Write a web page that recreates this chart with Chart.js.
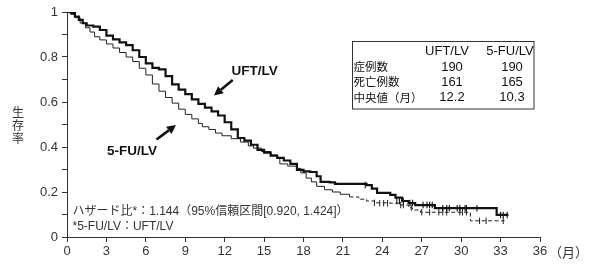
<!DOCTYPE html>
<html>
<head>
<meta charset="utf-8">
<script src="https://cdn.jsdelivr.net/npm/chart.js@4/dist/chart.umd.min.js"></script>
<style>
html,body{margin:0;padding:0;background:#fff;}
#wrap{width:591px;height:264px;}
</style>
</head>
<body>
<div id="wrap"><canvas id="c" width="591" height="264"></canvas></div>
<script>
// ---- data ----
const xTicks = [0,3,6,9,12,15,18,21,24,27,30,33,36];
const yTickLabels = ['0','0.2','0.4','0.6','0.8','1'];

const uftT = [0,0.3,0.6,0.9,1.2,1.5,2.0,2.5,3.0,3.5,4.0,4.5,5.0,5.5,6.0,6.5,7.0,7.5,8.0,8.5,9.0,9.5,10.0,10.5,11.0,11.5,12.0,12.5,13.0,13.5,14.0,14.5,15.0,15.5,16.0,16.5,17.0,17.5,18.0,18.5,19.0,19.3,20.0,20.4,22.8,23.2,23.6,24.6,25.0,25.5,26.0,26.5,28.0,32.7,33.6];
const uftS = [1,0.995,0.98,0.965,0.95,0.94,0.935,0.92,0.895,0.878,0.865,0.853,0.83,0.8,0.772,0.752,0.745,0.715,0.678,0.655,0.635,0.612,0.592,0.575,0.558,0.54,0.51,0.478,0.44,0.428,0.41,0.387,0.375,0.362,0.352,0.34,0.325,0.298,0.292,0.289,0.27,0.245,0.243,0.236,0.231,0.215,0.196,0.187,0.175,0.16,0.151,0.142,0.128,0.098,0.098];

const fuT = [0,0.3,0.6,1.0,1.4,1.75,2.1,2.5,3.0,3.5,4.0,4.5,5.0,5.5,6.0,6.5,7.0,7.5,8.0,8.5,9.0,9.5,10.0,10.3,10.8,11.3,11.8,12.5,13.2,13.8,14.2,14.8,15.5,16.0,16.2,16.8,17.5,17.8,18.2,18.6,19.0,19.6,20.2,20.8,21.5,22.2,22.8,23.4,24.6,25.3,26.0,26.3,26.9,30.7,33.3];
const fuS = [1,0.99,0.975,0.951,0.93,0.911,0.89,0.876,0.858,0.84,0.82,0.8,0.78,0.75,0.72,0.68,0.648,0.62,0.595,0.568,0.545,0.525,0.505,0.49,0.478,0.462,0.45,0.437,0.422,0.405,0.395,0.38,0.364,0.352,0.325,0.315,0.305,0.285,0.262,0.245,0.225,0.21,0.2,0.19,0.178,0.168,0.16,0.152,0.15,0.142,0.13,0.12,0.11,0.072,0.072];

const uftCensT = [22.7,25.1,25.3,25.6,26.1,26.3,27.1,27.4,27.6,27.8,28.6,28.9,29.1,29.7,29.9,30.3,30.4,31.2,33.0,33.2,33.5];
const uftCensS = [0.231,0.16,0.16,0.16,0.151,0.151,0.142,0.142,0.142,0.142,0.128,0.128,0.128,0.128,0.128,0.128,0.128,0.128,0.098,0.098,0.098];
const fuCensT = [23.4,23.8,24.1,24.4,25.4,25.6,26.2,27.0,27.6,28.3,28.6,28.9,29.9,30.1,30.4,31.4,31.9,33.2];
const fuCensS = [0.152,0.15,0.15,0.15,0.142,0.142,0.13,0.11,0.11,0.11,0.11,0.11,0.11,0.11,0.11,0.072,0.072,0.072];

const seriesNames = ['UFT/LV','5-FU/LV'];
const tableRows = ['症例数','死亡例数','中央値（月）'];
const uftStats = ['190','161','12.2'];
const fuStats = ['190','165','10.3'];
const hazardLines = ['ハザード比*：1.144（95%信頼区間[0.920, 1.424]）','*5-FU/LV：UFT/LV'];
const yTitle = '生存率';
const xUnit = '（月）';

// ---- build ----
const toXY = (t,s) => t.map((v,i)=>({x:v,y:s[i]}));
const INK = '#111';
const AX = '#333';
const LAT = "'Liberation Sans', Arial, 'Noto Sans CJK JP', sans-serif";
const CJK = "'Noto Sans CJK JP', 'Liberation Sans', sans-serif";
Chart.defaults.font.family = LAT;
Chart.defaults.color = AX;

function arrow(ctx, x1,y1,x2,y2){
  const a = Math.atan2(y2-y1,x2-x1), L=9, W=4.5;
  const bx = x2 - L*Math.cos(a), by = y2 - L*Math.sin(a);
  ctx.beginPath(); ctx.moveTo(x1,y1); ctx.lineTo(bx,by);
  ctx.lineWidth=2.6; ctx.strokeStyle=INK; ctx.stroke();
  ctx.beginPath(); ctx.moveTo(x2,y2);
  ctx.lineTo(bx + W*Math.sin(a), by - W*Math.cos(a));
  ctx.lineTo(bx - W*Math.sin(a), by + W*Math.cos(a));
  ctx.closePath(); ctx.fillStyle=INK; ctx.fill();
}

const annot = {
  id:'annot',
  afterDraw(chart){
    const ctx = chart.ctx;
    const xs = chart.scales.x, ys = chart.scales.y;
    ctx.save();
    // x unit
    ctx.fillStyle = AX; ctx.textBaseline='middle'; ctx.textAlign='left';
    ctx.font = "13px " + CJK;
    ctx.fillText(xUnit, xs.getPixelForValue(36)+9, 252);
    // y title
    ctx.textAlign='center'; ctx.font = "12px " + CJK;
    [...yTitle].forEach((ch,i)=>ctx.fillText(ch, 18, 112 + i*13));
    // table
    ctx.lineWidth=1; ctx.strokeStyle=AX;
    ctx.strokeRect(352.5,41.5,181.5,67.5);
    ctx.fillStyle=INK;
    ctx.font = "13px " + LAT; ctx.textAlign='center';
    ctx.fillText(seriesNames[0], 447, 51);
    ctx.fillText(seriesNames[1], 510, 51);
    const rowY=[67,82,97.5];
    tableRows.forEach((r,i)=>{
      ctx.textAlign='left'; ctx.font = "11.5px " + CJK;
      ctx.fillText(r, 353.5, rowY[i]);
      ctx.textAlign='center'; ctx.font = "13px " + LAT;
      ctx.fillText(uftStats[i], 452, rowY[i]);
      ctx.fillText(fuStats[i], 512, rowY[i]);
    });
    // series labels
    ctx.font = "bold 13.5px " + LAT; ctx.textAlign='left';
    ctx.fillText(seriesNames[0], 231.5, 71);
    ctx.fillText(seriesNames[1], 107, 151);
    arrow(ctx, 232.7, 80, 214, 95.5);
    arrow(ctx, 156.5, 139.5, 176, 125);
    // hazard text
    ctx.fillStyle = AX; ctx.font = "12px " + LAT; ctx.textAlign='left';
    ctx.fillText(hazardLines[0], 72.5, 212);
    ctx.fillText(hazardLines[1], 72.5, 226.5);
    ctx.restore();
  }
};

new Chart(document.getElementById('c'), {
  type:'line',
  data:{
    datasets:[
      {label:seriesNames[0], data:toXY(uftT,uftS), stepped:true, borderColor:INK, borderWidth:2.2, pointRadius:0, fill:false},
      {label:seriesNames[1], data:toXY(fuT,fuS), stepped:true, borderColor:'#222', borderWidth:1, pointRadius:0, fill:false,
        segment:{borderDash: c => c.p0.parsed.x >= 21.5 ? [4,2.5] : undefined}},
      {type:'scatter', data:toXY(uftCensT,uftCensS), showLine:false, pointStyle:'line', rotation:90, pointRadius:3.2, borderColor:INK, borderWidth:1.1},
      {type:'scatter', data:toXY(fuCensT,fuCensS), showLine:false, pointStyle:'line', rotation:90, pointRadius:3.2, borderColor:'#222', borderWidth:1}
    ]
  },
  options:{
    responsive:false, animation:false,
    layout:{padding:{top:12,right:51,left:0,bottom:0}},
    plugins:{legend:{display:false}, tooltip:{enabled:false}},
    scales:{
      x:{type:'linear', min:0, max:36,
        afterBuildTicks: s => { s.ticks = xTicks.map(v=>({value:v})); },
        afterFit: s => { s.height = 27; },
        ticks:{font:{size:13}, color:AX, padding:2, maxRotation:0, autoSkip:false, callback:v=>String(v)},
        grid:{drawOnChartArea:false, tickLength:5, color:AX, tickWidth:1},
        border:{color:AX, width:1}
      },
      y:{type:'linear', min:0, max:1,
        afterBuildTicks: s => { s.ticks = [0,1,2,3,4,5,6,7,8,9,10].map(i=>({value:i/10})); },
        afterFit: s => { s.width = 67; },
        ticks:{font:{size:13}, color:AX, padding:4, autoSkip:false,
          callback:(v,i)=> i%2===0 ? yTickLabels[i/2] : ''},
        grid:{drawOnChartArea:false, tickLength:5, color:AX, tickWidth:1},
        border:{color:AX, width:1}
      }
    }
  },
  plugins:[annot]
});
</script>
</body>
</html>
